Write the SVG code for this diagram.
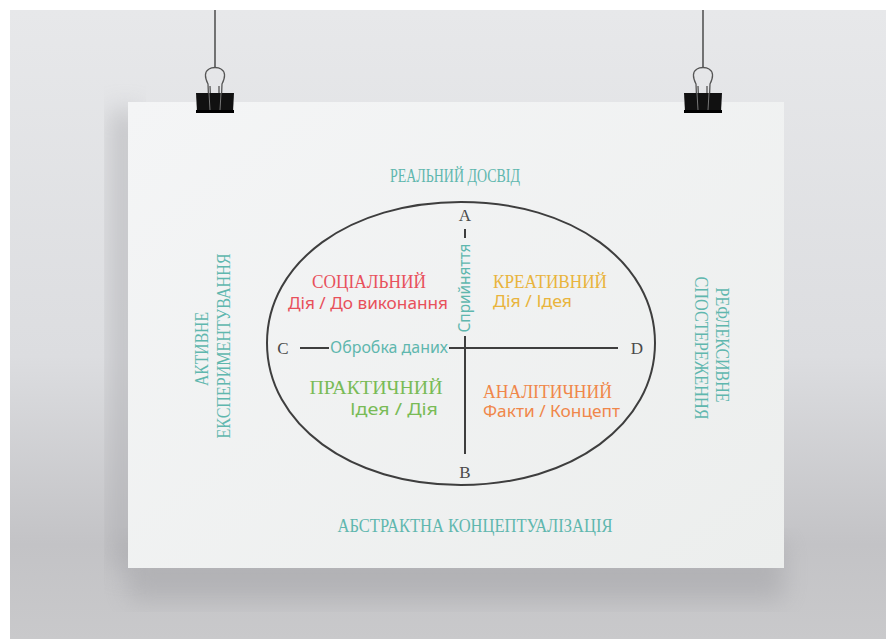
<svg xmlns="http://www.w3.org/2000/svg" width="886" height="639" viewBox="0 0 886 639">
<defs>
<linearGradient id="wall" x1="0" y1="0" x2="0" y2="1">
<stop offset="0" stop-color="#e7e8ea"/>
<stop offset="0.55" stop-color="#dcdde0"/>
<stop offset="0.85" stop-color="#c3c3c6"/>
<stop offset="1" stop-color="#c9c9cb"/>
</linearGradient>
<linearGradient id="paper" x1="0" y1="0" x2="1" y2="1">
<stop offset="0" stop-color="#f4f5f6"/>
<stop offset="1" stop-color="#eceeed"/>
</linearGradient>
<filter id="blur" x="-20%" y="-20%" width="140%" height="140%">
<feGaussianBlur stdDeviation="12"/>
</filter>
<style>
.t{font-family:"Liberation Serif","DejaVu Serif",serif;}
.s{font-family:"Noto Sans","Liberation Sans",sans-serif;}
.teal{fill:#5fb7ae;}
.red{fill:#e8505b;}
.gold{fill:#e9b43c;}
.green{fill:#79bb56;}
.orange{fill:#f0874a;}
.dark{fill:#4a4a4a;}
.ln{stroke:#3e3e3e;stroke-width:2;fill:none;}
.wire{stroke:#555;stroke-width:1.3;fill:none;}
</style>
</defs>

<g id="background">
<rect x="0" y="0" width="886" height="639" fill="#ffffff"/>
<rect x="10" y="10" width="876" height="629" fill="url(#wall)"/>
<rect x="128" y="540" width="656" height="60" fill="#9c9ca0" opacity="0.45" filter="url(#blur)"/>
<rect x="110" y="110" width="30" height="460" fill="#a8a8ac" opacity="0.5" filter="url(#blur)"/>
</g>

<g id="paper-sheet">
<rect x="128" y="102" width="656" height="466" fill="url(#paper)"/>
</g>

<g id="clip-left">
<line x1="215" y1="10" x2="215" y2="68" stroke="#333" stroke-width="1.3"/>
<path class="wire" d="M209 108 L208 84 C205 78 204 72 209 69 C212 67 218 67 221 69 C226 72 225 78 222 84 L221 108"/>
<path class="wire" d="M211 108 L210 86 M219 86 L219 108"/>
<path d="M196 93 L234 93 L233 112 L197 112 Z" fill="#111"/>
<rect x="196" y="110" width="38" height="3" fill="#000"/>
<path d="M209 93 L210 110 M221 93 L220 110" stroke="#777" stroke-width="1"/>
</g>

<g id="clip-right">
<line x1="703" y1="10" x2="703" y2="68" stroke="#333" stroke-width="1.3"/>
<path class="wire" d="M697 108 L696 84 C693 78 692 72 697 69 C700 67 706 67 709 69 C714 72 713 78 710 84 L709 108"/>
<path class="wire" d="M699 108 L698 86 M707 86 L707 108"/>
<path d="M684 93 L722 93 L721 112 L685 112 Z" fill="#111"/>
<rect x="684" y="110" width="38" height="3" fill="#000"/>
<path d="M697 93 L698 110 M709 93 L708 110" stroke="#777" stroke-width="1"/>
</g>

<g id="connectors">
<path class="ln" d="M267 343 C267 262 350 202 461 202 C572 202 655 262 655 343 C655 424 572 485 461 485 C350 485 267 424 267 343 Z"/>
<line class="ln" x1="465" y1="229" x2="465" y2="238"/>
<line class="ln" x1="465" y1="336" x2="465" y2="454"/>
<line class="ln" x1="300" y1="348" x2="329" y2="348"/>
<line class="ln" x1="449" y1="348" x2="618" y2="348"/>
</g>

<g id="axis-top"><text class="t teal" x="455" y="182" font-size="18" text-anchor="middle" textLength="130" lengthAdjust="spacingAndGlyphs">РЕАЛЬНИЙ ДОСВІД</text></g>
<g id="axis-bottom"><text class="t teal" x="475" y="532" font-size="18" text-anchor="middle" textLength="275" lengthAdjust="spacingAndGlyphs">АБСТРАКТНА КОНЦЕПТУАЛІЗАЦІЯ</text></g>
<g id="axis-left">
<text class="t teal" transform="translate(208,349) rotate(-90)" font-size="18" text-anchor="middle" textLength="74" lengthAdjust="spacingAndGlyphs">АКТИВНЕ</text>
<text class="t teal" transform="translate(230,346) rotate(-90)" font-size="18" text-anchor="middle" textLength="185" lengthAdjust="spacingAndGlyphs">ЕКСПЕРИМЕНТУВАННЯ</text>
</g>
<g id="axis-right">
<text class="t teal" transform="translate(716,345) rotate(90)" font-size="18" text-anchor="middle" textLength="115" lengthAdjust="spacingAndGlyphs">РЕФЛЕКСИВНЕ</text>
<text class="t teal" transform="translate(695,348) rotate(90)" font-size="18" text-anchor="middle" textLength="143" lengthAdjust="spacingAndGlyphs">СПОСТЕРЕЖЕННЯ</text>
</g>

<g id="point-a"><text class="t dark" x="465" y="221" font-size="17" text-anchor="middle">A</text></g>
<g id="point-b"><text class="t dark" x="465" y="478" font-size="17" text-anchor="middle">B</text></g>
<g id="point-c"><text class="t dark" x="283" y="354" font-size="17" text-anchor="middle">C</text></g>
<g id="point-d"><text class="t dark" x="637" y="354" font-size="17" text-anchor="middle">D</text></g>

<g id="label-perception"><text class="s teal" transform="translate(470,288) rotate(-90)" font-size="16" text-anchor="middle" textLength="89" lengthAdjust="spacingAndGlyphs">Сприйняття</text></g>
<g id="label-processing"><text class="s teal" x="389" y="353" font-size="16" text-anchor="middle" textLength="118" lengthAdjust="spacingAndGlyphs">Обробка даних</text></g>

<g id="social">
<text class="t red" x="369" y="288" font-size="18.5" text-anchor="middle" textLength="114" lengthAdjust="spacingAndGlyphs">СОЦІАЛЬНИЙ</text>
<text class="s red" x="368" y="309" font-size="16" text-anchor="middle" textLength="160" lengthAdjust="spacingAndGlyphs">Дія / До виконання</text>
</g>
<g id="creative">
<text class="t gold" x="493" y="288" font-size="18.5" textLength="114" lengthAdjust="spacingAndGlyphs">КРЕАТИВНИЙ</text>
<text class="s gold" x="493" y="307" font-size="16" textLength="79" lengthAdjust="spacingAndGlyphs">Дія / Ідея</text>
</g>
<g id="practical">
<text class="t green" x="376" y="394" font-size="18.5" text-anchor="middle" textLength="133" lengthAdjust="spacingAndGlyphs">ПРАКТИЧНИЙ</text>
<text class="s green" x="394" y="415" font-size="16" text-anchor="middle" textLength="88" lengthAdjust="spacingAndGlyphs">Ідея / Дія</text>
</g>
<g id="analytical">
<text class="t orange" x="483" y="398" font-size="18.5" textLength="129" lengthAdjust="spacingAndGlyphs">АНАЛІТИЧНИЙ</text>
<text class="s orange" x="483" y="417" font-size="16" textLength="137" lengthAdjust="spacingAndGlyphs">Факти / Концепт</text>
</g>
</svg>
